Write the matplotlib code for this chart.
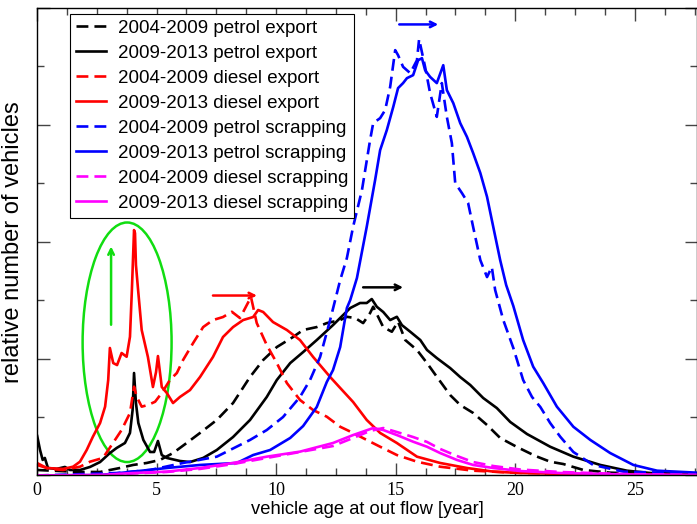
import numpy as np
import matplotlib
matplotlib.use("Agg")
import matplotlib.pyplot as plt
from matplotlib.patches import Ellipse
from matplotlib.ticker import MultipleLocator, NullFormatter

# vehicle age [year] and relative number of vehicles (arbitrary units)
pe_new_x = [0.01, 0.13, 0.24, 0.33, 0.46, 0.82, 1.17, 1.38, 1.80, 2.22, 2.64, 3.05, 3.33, 3.68, 3.89, 4.00,
            4.06, 4.14, 4.24, 4.45, 4.73, 4.90, 5.06, 5.22, 5.43, 5.98, 6.40, 6.95, 7.52, 8.20, 8.91, 9.61,
            10.03, 10.59, 11.13, 11.70, 12.38, 13.10, 13.51, 13.79, 14.00, 14.21, 14.48, 14.77, 15.05, 15.26,
            15.61, 16.03, 16.31, 16.72, 17.28, 17.70, 18.12, 18.66, 19.23, 19.79, 20.49, 21.46, 22.43, 23.56,
            24.67, 25.65, 27.6]
pe_new_y = [0.338, 0.218, 0.133, 0.150, 0.064, 0.056, 0.073, 0.047, 0.047, 0.073, 0.115, 0.192, 0.235, 0.278,
            0.364, 0.560, 0.877, 0.620, 0.449, 0.304, 0.201, 0.201, 0.295, 0.175, 0.150, 0.124, 0.115, 0.150,
            0.218, 0.329, 0.475, 0.672, 0.817, 0.962, 1.056, 1.159, 1.287, 1.433, 1.476, 1.476, 1.510, 1.444,
            1.399, 1.330, 1.358, 1.287, 1.230, 1.159, 1.074, 1.005, 0.919, 0.842, 0.774, 0.663, 0.577, 0.458,
            0.355, 0.246, 0.161, 0.090, 0.041, 0.021, 0.013]

pe_old_x = [0.0, 0.96, 1.80, 2.64, 3.47, 4.02, 4.59, 5.15, 5.69, 6.26, 6.82, 7.52, 8.20, 8.91, 9.46, 10.03,
            10.71, 11.13, 11.70, 12.12, 12.68, 12.96, 13.31, 13.64, 13.93, 14.06, 14.48, 14.84, 15.10, 15.40,
            15.89, 16.31, 16.72, 17.28, 17.70, 18.24, 18.82, 19.37, 20.07, 20.84, 21.46, 22.01, 22.85, 23.97,
            25.65, 27.6]
pe_old_y = [0.047, 0.038, 0.030, 0.030, 0.064, 0.090, 0.107, 0.133, 0.192, 0.278, 0.364, 0.475, 0.620, 0.843,
            0.988, 1.099, 1.185, 1.245, 1.270, 1.304, 1.330, 1.358, 1.347, 1.304, 1.390, 1.444, 1.270, 1.230,
            1.316, 1.159, 1.074, 0.962, 0.845, 0.688, 0.603, 0.535, 0.432, 0.321, 0.244, 0.167, 0.118, 0.098,
            0.047, 0.024, 0.013, 0.004]

de_new_x = [0.0, 0.41, 1.09, 1.51, 1.80, 2.08, 2.34, 2.64, 2.85, 2.98, 3.05, 3.19, 3.35, 3.54, 3.75, 3.89,
            3.97, 4.06, 4.10, 4.14, 4.23, 4.38, 4.64, 4.85, 4.98, 5.06, 5.22, 5.43, 5.69, 5.98, 6.40, 6.82,
            7.36, 7.78, 8.20, 8.62, 9.04, 9.25, 9.46, 9.87, 10.45, 11.00, 11.55, 12.26, 12.68, 13.22, 13.79,
            14.35, 15.05, 15.89, 16.86, 17.98, 19.08, 20.21, 23.56, 27.6]
de_new_y = [0.107, 0.064, 0.056, 0.075, 0.118, 0.218, 0.332, 0.449, 0.589, 0.817, 1.091, 0.962, 0.945, 1.048,
            1.016, 1.187, 1.587, 2.100, 2.074, 1.800, 1.587, 1.245, 1.014, 0.757, 0.885, 1.022, 0.757, 0.706,
            0.620, 0.672, 0.731, 0.843, 1.014, 1.185, 1.270, 1.330, 1.356, 1.416, 1.399, 1.313, 1.245, 1.159,
            1.014, 0.843, 0.749, 0.629, 0.475, 0.364, 0.278, 0.161, 0.107, 0.064, 0.033, 0.021, 0.009, 0.004]

de_old_x = [0.0, 0.54, 1.09, 1.80, 2.22, 2.76, 3.18, 3.54, 3.89, 4.06, 4.17, 4.38, 4.64, 4.94, 5.22, 5.56,
            5.85, 6.11, 6.53, 6.95, 7.36, 7.78, 8.15, 8.49, 8.95, 9.19, 9.61, 10.03, 10.45, 11.00, 11.55,
            12.12, 12.68, 13.22, 13.79, 14.35, 15.05, 15.89, 16.86, 18.24, 19.92, 23.56, 27.6]
de_old_y = [0.090, 0.056, 0.047, 0.075, 0.118, 0.150, 0.278, 0.389, 0.535, 0.760, 0.674, 0.589, 0.603, 0.631,
            0.706, 0.817, 0.877, 0.988, 1.133, 1.270, 1.330, 1.356, 1.401, 1.347, 1.527, 1.305, 1.116, 0.962,
            0.791, 0.646, 0.560, 0.503, 0.417, 0.364, 0.304, 0.246, 0.175, 0.118, 0.075, 0.041, 0.024, 0.009,
            0.004]

ps_new_x = [0.0, 2.64, 4.02, 5.43, 6.82, 8.36, 9.04, 9.75, 10.59, 11.13, 11.70, 12.12, 12.38, 12.68, 12.96,
            13.10, 13.38, 13.79, 14.14, 14.35, 14.63, 14.90, 15.10, 15.31, 15.47, 15.73, 15.94, 16.10, 16.23,
            16.44, 16.72, 16.99, 17.14, 17.41, 17.70, 17.98, 18.24, 18.54, 18.82, 19.08, 19.37, 19.62, 19.92,
            20.33, 20.75, 21.17, 21.74, 22.43, 23.14, 23.97, 24.94, 25.93, 27.6]
ps_new_y = [0.0, 0.004, 0.033, 0.064, 0.090, 0.107, 0.175, 0.218, 0.321, 0.423, 0.586, 0.800, 0.902, 1.099,
            1.433, 1.501, 1.690, 2.128, 2.528, 2.784, 2.956, 3.155, 3.315, 3.358, 3.400, 3.426, 3.554, 3.571,
            3.469, 3.411, 3.358, 3.511, 3.298, 3.186, 3.015, 2.898, 2.759, 2.588, 2.385, 2.128, 1.843, 1.630,
            1.450, 1.159, 0.931, 0.791, 0.589, 0.417, 0.304, 0.192, 0.090, 0.041, 0.024]

ps_old_x = [0.0, 3.33, 4.73, 6.11, 7.52, 8.91, 9.61, 10.29, 11.00, 11.42, 11.84, 12.26, 12.68, 12.96, 13.22,
            13.59, 13.93, 14.06, 14.35, 14.56, 14.77, 14.98, 15.10, 15.31, 15.61, 15.89, 15.98, 16.23, 16.44,
            16.72, 16.93, 17.14, 17.35, 17.49, 17.77, 18.03, 18.24, 18.54, 18.82, 19.02, 19.16, 19.50, 19.92,
            20.33, 20.70, 21.05, 21.46, 21.88, 22.43, 23.26, 24.52, 26.61, 27.6]
ps_old_y = [0.0, 0.021, 0.047, 0.107, 0.161, 0.304, 0.389, 0.500, 0.672, 0.817, 1.014, 1.330, 1.672, 1.861,
            2.128, 2.442, 2.870, 3.015, 3.058, 3.127, 3.326, 3.640, 3.597, 3.497, 3.443, 3.554, 3.734, 3.497,
            3.272, 3.069, 3.358, 3.069, 2.844, 2.502, 2.417, 2.331, 2.126, 1.843, 1.698, 1.784, 1.587, 1.330,
            1.091, 0.817, 0.672, 0.586, 0.449, 0.332, 0.201, 0.090, 0.033, 0.021, 0.013]

ds_new_x = [0.0, 2.64, 4.02, 5.43, 6.82, 8.20, 9.61, 11.00, 12.38, 13.22, 14.06, 14.48, 15.05, 15.73, 16.31,
            16.86, 17.56, 18.24, 19.08, 20.21, 21.88, 24.39, 27.6]
ds_new_y = [0.0, 0.004, 0.021, 0.033, 0.064, 0.107, 0.161, 0.204, 0.278, 0.346, 0.406, 0.389, 0.346, 0.289,
            0.246, 0.192, 0.133, 0.090, 0.064, 0.038, 0.021, 0.009, 0.004]

ds_old_x = [0.0, 2.64, 4.02, 5.43, 6.82, 8.20, 9.61, 11.00, 12.38, 13.22, 13.93, 14.48, 15.05, 15.73, 16.31,
            16.86, 17.56, 18.24, 19.08, 20.21, 21.88, 24.39, 27.6]
ds_old_y = [0.0, 0.004, 0.017, 0.030, 0.056, 0.098, 0.150, 0.201, 0.252, 0.321, 0.381, 0.406, 0.372, 0.329,
            0.287, 0.227, 0.167, 0.115, 0.081, 0.051, 0.030, 0.013, 0.004]

series = [
    ("2004-2009 petrol export", pe_old_x, pe_old_y, "black", True),
    ("2009-2013 petrol export", pe_new_x, pe_new_y, "black", False),
    ("2004-2009 diesel export", de_old_x, de_old_y, "#ff0000", True),
    ("2009-2013 diesel export", de_new_x, de_new_y, "#ff0000", False),
    ("2004-2009 petrol scrapping", ps_old_x, ps_old_y, "#0000ff", True),
    ("2009-2013 petrol scrapping", ps_new_x, ps_new_y, "#0000ff", False),
    ("2004-2009 diesel scrapping", ds_old_x, ds_old_y, "#ff00ff", True),
    ("2009-2013 diesel scrapping", ds_new_x, ds_new_y, "#ff00ff", False),
]

fig = plt.figure(figsize=(6.97, 5.24), dpi=100)
ax = fig.add_axes([0.053, 0.0926, 0.947, 0.892])

for label, xs, ys, col, dashed in series:
    ls = (0, (4.5, 2.3)) if dashed else "-"
    ax.plot(xs, ys, color=col, lw=1.9, ls=ls, label=label)

# shift markers
green = "#11dd11"
ax.add_patch(Ellipse((3.77, 1.14), 3.72, 2.05, fill=False, ec=green, lw=1.8))
arrows = [((3.1, 1.29), (3.1, 1.96), green),
          ((7.36, 1.54), (9.2, 1.54), "#ff0000"),
          ((13.64, 1.61), (15.31, 1.61), "black"),
          ((15.15, 3.86), (16.78, 3.86), "#0000ff")]
for start, end, col in arrows:
    ax.annotate("", xy=end, xytext=start,
                arrowprops=dict(arrowstyle="->", color=col, lw=1.8, shrinkA=0, shrinkB=0))

ax.set_xlim(0, 27.6)
ax.set_ylim(0, 4)
ax.xaxis.set_major_locator(MultipleLocator(5))
ax.xaxis.set_minor_locator(MultipleLocator(1.25))
ax.yaxis.set_major_locator(MultipleLocator(1))
ax.yaxis.set_minor_locator(MultipleLocator(0.5))
ax.yaxis.set_major_formatter(NullFormatter())
ax.tick_params(which="both", direction="in", top=True, right=True, color="#444444")
ax.tick_params(which="major", length=9, width=1)
ax.tick_params(which="minor", length=5, width=1)
ax.tick_params(axis="x", labelsize=13, pad=5)
for t in ax.get_xticklabels():
    t.set_family("Liberation Serif")
for s in ax.spines.values():
    s.set_linewidth(1)

ax.set_xlabel("vehicle age at out flow [year]", family="Liberation Sans", fontsize=13.2, labelpad=1)
ax.set_ylabel("relative number of vehicles", family="Liberation Sans", fontsize=17, labelpad=6)

leg = ax.legend(loc="upper left", bbox_to_anchor=(0.05, 0.987), borderaxespad=0,
                prop={"family": "Liberation Sans", "size": 13.5}, fancybox=False,
                edgecolor="black", framealpha=1, handlelength=1.6, labelspacing=0.42,
                borderpad=0.3, handletextpad=0.65)
leg.get_frame().set_linewidth(0.8)

fig.savefig("out.png", dpi=100)
